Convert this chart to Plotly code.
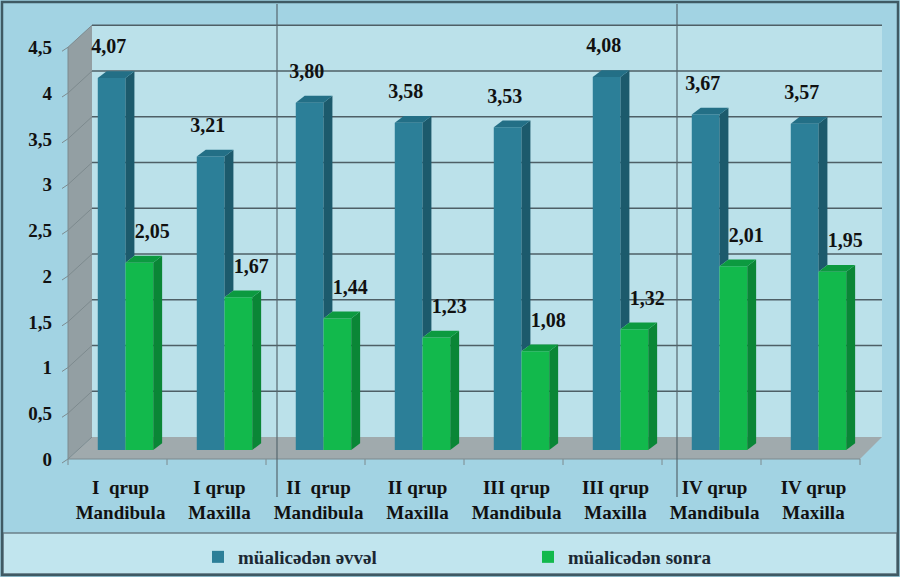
import plotly.graph_objects as go

# ---------------- data ----------------
categories = ["I  qrup<br>Mandibula", "I qrup<br>Maxilla",
              "II  qrup<br>Mandibula", "II qrup<br>Maxilla",
              "III qrup<br>Mandibula", "III qrup<br>Maxilla",
              "IV qrup<br>Mandibula", "IV qrup<br>Maxilla"]
before = [4.07, 3.21, 3.80, 3.58, 3.53, 4.08, 3.67, 3.57]
after = [2.05, 1.67, 1.44, 1.23, 1.08, 1.32, 2.01, 1.95]
series_names = ["müalicədən əvvəl", "müalicədən sonra"]
y_ticks = [0, 0.5, 1, 1.5, 2, 2.5, 3, 3.5, 4, 4.5]

# ---------------- style ----------------
W, H = 900, 577
ML, MR, MT, MB = 76, 32, 25, 127
PW, PH = W - ML - MR, H - MT - MB
FONT = "Liberation Serif, Times New Roman, serif"
BLUE, BLUE_SIDE, BLUE_TOP = "#2c7f98", "#1c5a6c", "#236f86"
GREEN, GREEN_SIDE, GREEN_TOP = "#12b94c", "#0a8636", "#0c9a40"
BW, DX, DY = 0.28, 0.09, 0.075

def px(x):
    return (x - ML) / PW

def py(y):
    return (H - MB - y) / PH

idx = list(range(len(categories)))
fig = go.Figure()

fig.add_trace(go.Bar(x=idx, y=before, width=BW, offset=-BW, name=series_names[0],
                     marker=dict(color=BLUE, line=dict(width=0))))
fig.add_trace(go.Bar(x=idx, y=after, width=BW, offset=0, name=series_names[1],
                     marker=dict(color=GREEN, line=dict(width=0))))

def poly(xs, ys, color):
    fig.add_trace(go.Scatter(x=xs + [xs[0]], y=ys + [ys[0]], mode="lines", fill="toself",
                             fillcolor=color, line=dict(width=0, color=color),
                             showlegend=False, hoverinfo="skip"))

# 3D faces derived from the data values
for i, b, a in zip(idx, before, after):
    poly([i, i, i + DX, i + DX], [a, b, b + DY, a + DY], BLUE_SIDE)
    poly([i - BW, i, i + DX, i - BW + DX], [b, b, b + DY, b + DY], BLUE_TOP)
for i, a in zip(idx, after):
    poly([i + BW, i + BW, i + BW + DX, i + BW + DX], [0, a, a + DY, DY], GREEN_SIDE)
    poly([i, i + BW, i + BW + DX, i + DX], [a, a, a + DY, a + DY], GREEN_TOP)

def fmt(v):
    return f"{v:.2f}".replace(".", ",")

fig.add_trace(go.Scatter(x=[i - BW / 2 - 0.03 for i in idx], y=[b + DY + 0.25 for b in before],
                         mode="text", text=[fmt(v) for v in before], textposition="middle center",
                         textfont=dict(family=FONT, size=20, color="#111111", weight="bold"),
                         showlegend=False, hoverinfo="skip", cliponaxis=False))
fig.add_trace(go.Scatter(x=[i + BW / 2 + 0.13 for i in idx], y=[a + DY + 0.25 for a in after],
                         mode="text", text=[fmt(v) for v in after], textposition="middle center",
                         textfont=dict(family=FONT, size=20, color="#111111", weight="bold"),
                         showlegend=False, hoverinfo="skip", cliponaxis=False))

# ---------------- decorations (walls, floor, grid) ----------------
shapes = []
yF = lambda t: 459 - 91.5 * t
yB = lambda t: 437 - 91.5 * t
XF0, XF1, XB0, XB1 = 68, 860, 92, 882

# back wall
shapes.append(dict(type="rect", xref="paper", yref="paper", x0=px(XB0), x1=px(XB1),
                   y0=py(yB(0)), y1=py(yB(4.5)), fillcolor="#bbe1ea", line=dict(width=0), layer="below"))
# left wall
shapes.append(dict(type="path", xref="paper", yref="paper", layer="below",
                   path=f"M{px(XF0)},{py(yF(0))} L{px(XF0)},{py(yF(4.5))} L{px(XB0)},{py(yB(4.5))} L{px(XB0)},{py(yB(0))} Z",
                   fillcolor="#939fa3", line=dict(width=0)))
# floor
shapes.append(dict(type="path", xref="paper", yref="paper", layer="below",
                   path=f"M{px(XF0)},{py(yF(0))} L{px(XF1)},{py(yF(0))} L{px(XB1)},{py(yB(0))} L{px(XB0)},{py(yB(0))} Z",
                   fillcolor="#a0aaad", line=dict(width=0)))
# gridlines on back wall + diagonal on left wall + tick marks
for t in y_ticks:
    if t > 0:
        shapes.append(dict(type="line", xref="paper", yref="paper", layer="below",
                           x0=px(XB0), x1=px(XB1), y0=py(yB(t)), y1=py(yB(t)),
                           line=dict(color="#4e5f66", width=1.6)))
    shapes.append(dict(type="line", xref="paper", yref="paper", layer="below",
                       x0=px(XF0), x1=px(XB0), y0=py(yF(t)), y1=py(yB(t)),
                       line=dict(color="#7d8a8e", width=1)))
    shapes.append(dict(type="line", xref="paper", yref="paper", layer="below",
                       x0=px(XF0 - 6), x1=px(XF0), y0=py(yF(t) + 4), y1=py(yF(t)),
                       line=dict(color="#7d8a8e", width=1)))
# front axes edges
shapes.append(dict(type="line", xref="paper", yref="paper", layer="below",
                   x0=px(XF0), x1=px(XF1), y0=py(yF(0)), y1=py(yF(0)),
                   line=dict(color="#7d8a8e", width=1)))
shapes.append(dict(type="line", xref="paper", yref="paper", layer="below",
                   x0=px(XF0), x1=px(XF0), y0=py(yF(0)), y1=py(yF(4.5)),
                   line=dict(color="#7d8a8e", width=1)))
for k in range(len(categories) + 1):
    xx = XF0 + k * 99
    shapes.append(dict(type="line", xref="paper", yref="paper", layer="below",
                       x0=px(xx), x1=px(xx), y0=py(yF(0)), y1=py(yF(0) + 6),
                       line=dict(color="#7d8a8e", width=1)))
# group separators
for xs in (277, 677):
    shapes.append(dict(type="line", xref="paper", yref="paper", layer="below",
                       x0=px(xs), x1=px(xs), y0=py(4), y1=py(497),
                       line=dict(color="#56676e", width=1.2)))
# legend box
shapes.append(dict(type="rect", xref="paper", yref="paper", layer="below",
                   x0=px(3), x1=px(897), y0=py(574), y1=py(533),
                   fillcolor="#c1e5ee", line=dict(color="#6b8089", width=1.5)))
# outer frame
shapes.append(dict(type="rect", xref="paper", yref="paper", layer="above",
                   x0=px(2), x1=px(898), y0=py(575), y1=py(2),
                   fillcolor="rgba(0,0,0,0)", line=dict(color="#3f5a64", width=2.5)))

fig.update_layout(
    width=W, height=H,
    margin=dict(l=ML, r=MR, t=MT, b=MB, autoexpand=False),
    paper_bgcolor="#a2d3e3",
    plot_bgcolor="rgba(0,0,0,0)",
    barmode="overlay",
    separators=",.",
    shapes=shapes,
    showlegend=True,
    legend=dict(orientation="h", x=px(198), xanchor="left", y=py(557), yanchor="middle",
                bgcolor="rgba(0,0,0,0)", entrywidth=285, entrywidthmode="pixels",
                font=dict(family=FONT, size=19, color="#1b2833", weight="bold"),
                traceorder="normal"),
    xaxis=dict(range=[-0.5, 7.5], tickvals=idx, ticktext=categories, showgrid=False,
               zeroline=False, showline=False, ticks="", ticklabelstandoff=24, ticklabelshift=-5,
               automargin=False,
               tickfont=dict(family=FONT, size=19, color="#111111", weight="bold")),
    yaxis=dict(range=[0, 4.65], tickvals=y_ticks, showgrid=False, zeroline=False,
               showline=False, ticks="", ticklabelstandoff=23, ticklabelshift=9,
               automargin=False,
               tickfont=dict(family=FONT, size=19, color="#111111", weight="bold")),
)

fig.write_html("out.html")
